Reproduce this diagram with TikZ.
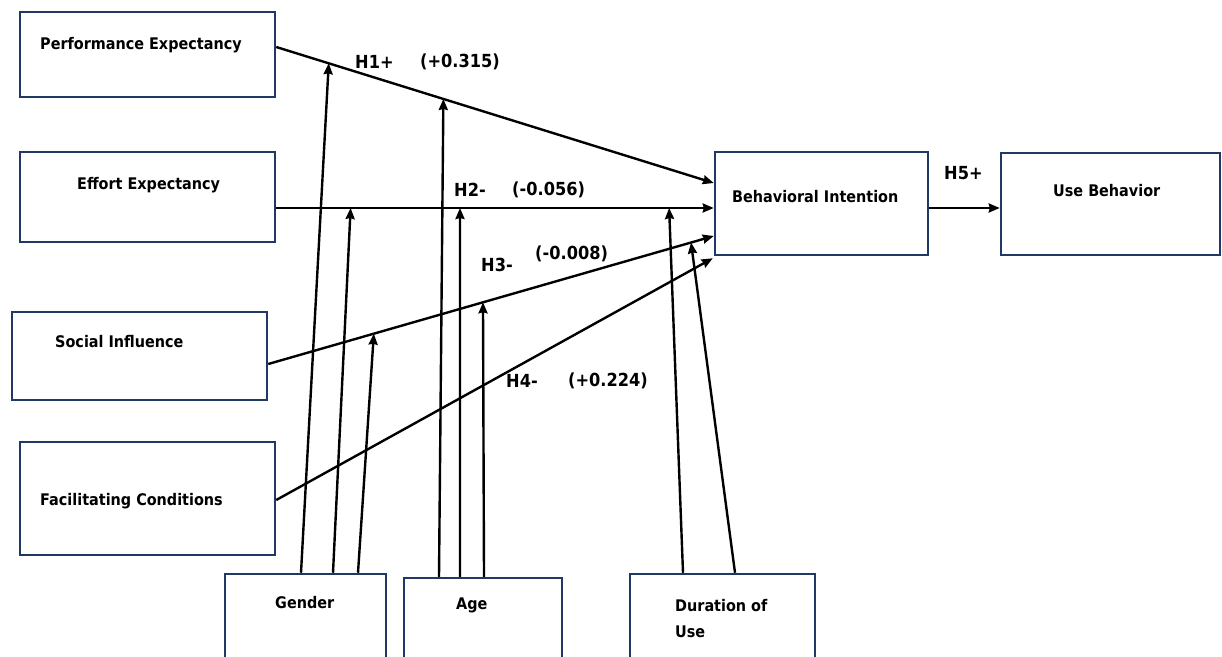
\documentclass[tikz,border=0pt]{standalone}
\usepackage{fontspec}
\setmainfont{DejaVu Sans}[FakeStretch=0.9]
\usetikzlibrary{arrows.meta,calc}
\definecolor{boxblue}{HTML}{1F3864}
\begin{document}
\begin{tikzpicture}[x=1pt,y=-1pt,
  box/.style={draw=boxblue,line width=2.5pt,inner sep=0pt,rectangle},
  link/.style={line width=2.4pt,-{Stealth[length=11pt,width=9pt,inset=1pt]}},
  lbl/.style={font=\bfseries\fontsize{16}{26}\selectfont,inner sep=0pt,anchor=west},
  hyp/.style={font=\bfseries\fontsize{18}{19}\selectfont,inner sep=0pt,anchor=west}]
\useasboundingbox (0,0) rectangle (1222,656);
\clip (0,0) rectangle (1222,656);

% construct boxes
\node[box,minimum width=255pt,minimum height=85pt]  (PE) at (147.5,54.5) {};
\node[box,minimum width=255pt,minimum height=90pt]  (EE) at (147.5,197) {};
\node[box,minimum width=255pt,minimum height=88pt]  (SI) at (139.5,356) {};
\node[box,minimum width=255pt,minimum height=113pt] (FC) at (147.5,498.5) {};
\node[box,minimum width=213pt,minimum height=103pt] (BI) at (821.5,203.5) {};
\node[box,minimum width=219pt,minimum height=102pt] (UB) at (1110.5,204) {};
% moderator boxes
\node[box,minimum width=161pt,minimum height=106pt] (GE) at (305.5,627) {};
\node[box,minimum width=158pt,minimum height=102pt] (AG) at (483,629) {};
\node[box,minimum width=185pt,minimum height=106pt] (DU) at (722.5,627) {};

% box texts
\node[lbl] (tPE) at (40,45)  {Performance Expectancy};
\node[lbl] (tEE) at (77,185) {Effort Expectancy};
\node[lbl] (tSI) at (55,342) {Social Influence};
\node[lbl] (tFC) at (40,501) {Facilitating Conditions};
\node[lbl] (tBI) at (732,197) {Behavioral Intention};
\node[lbl] (tUB) at (1053,191) {Use Behavior};
\node[lbl] (tGE) at (275,603) {Gender};
\node[lbl] (tAG) at (456,605) {Age};
\node[lbl,align=left] (tDU) at (675,619) {Duration of\\Use};

% paths into Behavioral Intention
\draw[link] ($(PE.east)+(0,-7.5)$) -- coordinate[pos=0.12] (g1) coordinate[pos=0.382] (a1) ($(BI.west)+(0,-20.5)$);
\draw[link] ($(EE.east)+(0,11)$) -- coordinate[pos=0.17] (g2) coordinate[pos=0.42] (a2) coordinate[pos=0.898] (d1) ($(BI.west)+(0,4.5)$);
\draw[link] ($(SI.east)+(0,8)$) -- coordinate[pos=0.237] (g3) coordinate[pos=0.482] (a3) coordinate[pos=0.949] (d2) ($(BI.west)+(0,32.5)$);
\draw[link] ($(FC.east)+(0,1.5)$) -- ($(BI.south west)+(-1,2)$);
\draw[link] ($(BI.east)+(0,4.5)$) -- ($(UB.west)+(0,4)$);

% moderating effects
\draw[link] ($(GE.north)+(-4.5,0)$) -- (g1);
\draw[link] ($(GE.north)+(27.5,0)$) -- (g2);
\draw[link] ($(GE.north)+(52.5,0)$) -- (g3);
\draw[link] ($(AG.north)+(-44,0)$) -- (a1);
\draw[link] ($(AG.north)+(-23,0)$) -- (a2);
\draw[link] ($(AG.north)+(1,0)$) -- (a3);
\draw[link] ($(DU.north)+(-39.5,0)$) -- (d1);
\draw[link] ($(DU.north)+(12.5,0)$) -- (d2);

% hypothesis labels
\node[hyp] (h1) at (355,62) {H1+};
\node[hyp] (c1) at (420,62) {(+0.315)};
\node[hyp] (h2) at (454,190) {H2-};
\node[hyp] (c2) at (512,190) {(-0.056)};
\node[hyp] (h3) at (481,265) {H3-};
\node[hyp] (c3) at (535,254) {(-0.008)};
\node[hyp] (h4) at (506,381) {H4-};
\node[hyp] (c4) at (568,381) {(+0.224)};
\node[hyp] (h5) at (944,173) {H5+};
\end{tikzpicture}
\end{document}
